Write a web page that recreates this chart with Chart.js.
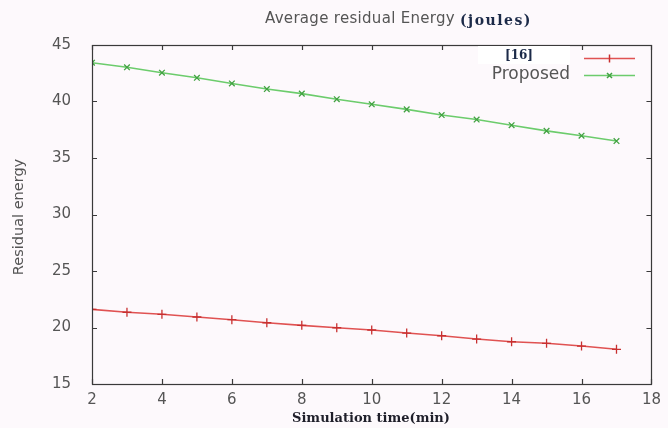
<!DOCTYPE html>
<html>
<head>
<meta charset="utf-8">
<script src="https://cdn.jsdelivr.net/npm/chart.js@4/dist/chart.umd.min.js"></script>
<style>
  html, body { margin: 0; padding: 0; background: #fdf9fc; }
  #wrap { width: 668px; height: 428px; position: relative; }
</style>
</head>
<body>
<div id="wrap"><canvas id="c" width="668" height="428"></canvas></div>
<script>
// ---- data ----
const times = [2, 3, 4, 5, 6, 7, 8, 9, 10, 11, 12, 13, 14, 15, 16, 17];
const ref16 = [21.6, 21.35, 21.17, 20.93, 20.69, 20.42, 20.19, 19.98, 19.78, 19.51, 19.27, 18.98, 18.74, 18.6, 18.36, 18.07];
const proposed = [43.43, 43.03, 42.55, 42.1, 41.6, 41.1, 40.7, 40.2, 39.75, 39.3, 38.8, 38.4, 37.9, 37.4, 36.97, 36.5];
const seriesNames = ["[16]", "Proposed"];
const xTicks = [2, 4, 6, 8, 10, 12, 14, 16, 18];
const yTicks = [15, 20, 25, 30, 35, 40, 45];
const titleMain = "Average residual Energy";
const titleUnit = "(joules)";
const xTitle = "Simulation time(min)";
const yTitle = "Residual energy";

const RED = "#e05252", RED_M = "#c83030";
const GREEN = "#6ccc6c", GREEN_M = "#42a242";

const decor = {
  id: "decor",
  beforeDraw(chart) {
    const ctx = chart.ctx;
    ctx.save();
    ctx.fillStyle = "#fdf9fc";
    ctx.fillRect(0, 0, chart.width, chart.height);
    ctx.restore();
  },
  afterDraw(chart) {
    const ctx = chart.ctx;
    const a = chart.chartArea;
    const xs = chart.scales.x, ys = chart.scales.y;
    ctx.save();
    // frame
    ctx.strokeStyle = "#3a3a3a";
    ctx.lineWidth = 1.2;
    ctx.strokeRect(Math.round(a.left) + 0.5, Math.round(a.top) + 0.5, Math.round(a.right - a.left), Math.round(a.bottom - a.top));
    // inward ticks on all sides
    ctx.beginPath();
    xTicks.forEach(v => {
      const px = Math.round(xs.getPixelForValue(v)) + 0.5;
      ctx.moveTo(px, a.bottom); ctx.lineTo(px, a.bottom - 5);
      ctx.moveTo(px, a.top); ctx.lineTo(px, a.top + 5);
    });
    yTicks.forEach(v => {
      const py = Math.round(ys.getPixelForValue(v)) + 0.5;
      ctx.moveTo(a.left, py); ctx.lineTo(a.left + 5, py);
      ctx.moveTo(a.right, py); ctx.lineTo(a.right - 5, py);
    });
    ctx.stroke();

    // title
    ctx.textBaseline = "middle";
    ctx.textAlign = "left";
    ctx.font = "15px 'DejaVu Sans'";
    ctx.letterSpacing = "0.3px";
    ctx.fillStyle = "#555";
    ctx.fillText(titleMain, 265, 19);
    const w = ctx.measureText(titleMain).width;
    ctx.font = "bold 14px 'DejaVu Serif'";
    ctx.letterSpacing = "1.5px";
    ctx.fillStyle = "#1c2a48";
    ctx.fillText(titleUnit, 265 + w + 5, 21);
    ctx.letterSpacing = "0px";

    // axis titles
    ctx.font = "bold 13px 'DejaVu Serif'";
    ctx.fillStyle = "#1f1f2a";
    ctx.textAlign = "center";
    ctx.fillText(xTitle, 371, 419);
    ctx.save();
    ctx.translate(19, 217);
    ctx.rotate(-Math.PI / 2);
    ctx.font = "14.5px 'DejaVu Sans'";
    ctx.fillStyle = "#555";
    ctx.fillText(yTitle, 0, 0);
    ctx.restore();

    // legend
    ctx.fillStyle = "#ffffff";
    ctx.fillRect(478, 46, 92, 18);
    ctx.font = "bold 12px 'DejaVu Serif'";
    ctx.fillStyle = "#1c2a48";
    ctx.textAlign = "center";
    ctx.fillText(seriesNames[0], 519, 56);
    ctx.font = "17px 'DejaVu Sans'";
    ctx.fillStyle = "#555";
    ctx.textAlign = "right";
    ctx.fillText(seriesNames[1], 570, 75);
    // samples
    ctx.lineWidth = 1.5;
    ctx.strokeStyle = RED;
    ctx.beginPath(); ctx.moveTo(584, 58.5); ctx.lineTo(635, 58.5); ctx.stroke();
    ctx.strokeStyle = RED_M;
    ctx.beginPath(); ctx.moveTo(609.5, 54.5); ctx.lineTo(609.5, 62.5); ctx.stroke();
    ctx.strokeStyle = GREEN;
    ctx.beginPath(); ctx.moveTo(584, 75.5); ctx.lineTo(635, 75.5); ctx.stroke();
    ctx.strokeStyle = GREEN_M;
    ctx.beginPath();
    ctx.moveTo(607, 73); ctx.lineTo(612, 78);
    ctx.moveTo(612, 73); ctx.lineTo(607, 78);
    ctx.stroke();
    ctx.restore();
  }
};

new Chart(document.getElementById("c"), {
  type: "line",
  data: {
    datasets: [
      {
        label: seriesNames[0],
        data: times.map((t, i) => ({ x: t, y: ref16[i] })),
        borderColor: RED,
        borderWidth: 1.6,
        pointStyle: "cross",
        pointRadius: 4.5,
        pointBorderColor: RED_M,
        pointBorderWidth: 1.3,
        pointBackgroundColor: RED_M,
        tension: 0,
        fill: false
      },
      {
        label: seriesNames[1],
        data: times.map((t, i) => ({ x: t, y: proposed[i] })),
        borderColor: GREEN,
        borderWidth: 1.6,
        pointStyle: "crossRot",
        pointRadius: 4,
        pointBorderColor: GREEN_M,
        pointBorderWidth: 1.3,
        pointBackgroundColor: GREEN_M,
        tension: 0,
        fill: false
      }
    ]
  },
  options: {
    responsive: false,
    animation: false,
    devicePixelRatio: 1,
    layout: { padding: { left: 0, top: 45, right: 11, bottom: 0 } },
    plugins: {
      legend: { display: false },
      title: { display: false },
      tooltip: { enabled: false }
    },
    scales: {
      x: {
        type: "linear",
        min: 2, max: 18,
        afterBuildTicks(s) { s.ticks = xTicks.map(v => ({ value: v })); },
        afterFit(s) { s.height = 44; },
        grid: { display: false, drawTicks: false },
        border: { display: false },
        ticks: { color: "#555", font: { family: "DejaVu Sans", size: 15 }, padding: 7, maxRotation: 0 }
      },
      y: {
        type: "linear",
        min: 15, max: 45,
        afterBuildTicks(s) { s.ticks = yTicks.map(v => ({ value: v })); },
        afterFit(s) { s.width = 92; },
        grid: { display: false, drawTicks: false },
        border: { display: false },
        ticks: { color: "#555", font: { family: "DejaVu Sans", size: 15 }, padding: 21 }
      }
    }
  },
  plugins: [decor]
});
</script>
</body>
</html>
